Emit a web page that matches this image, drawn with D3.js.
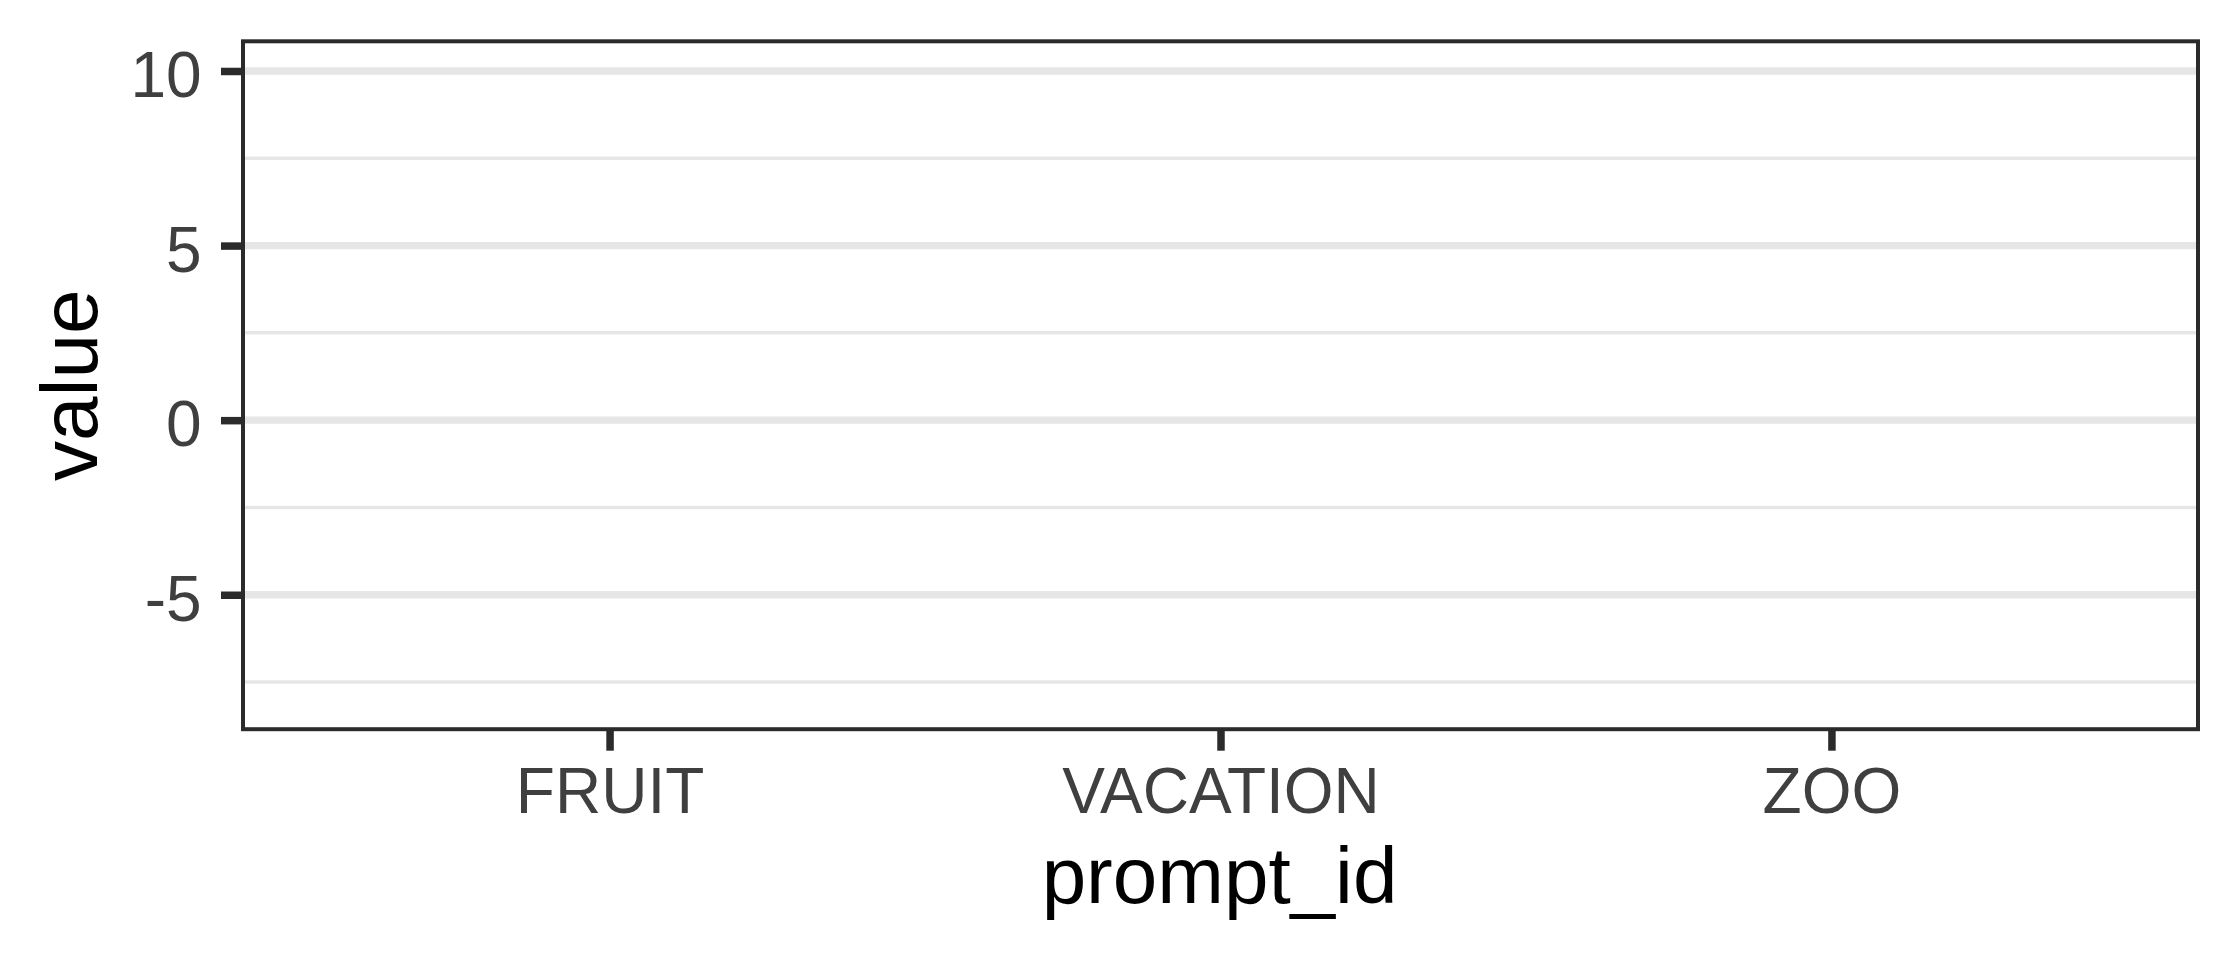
<!DOCTYPE html>
<html>
<head>
<meta charset="utf-8">
<script src="https://cdn.jsdelivr.net/npm/d3@7"></script>
<style>
  html, body { margin: 0; padding: 0; background: #ffffff; }
  svg { display: block; }
  text { font-family: "Liberation Sans", Arial, Helvetica, sans-serif; }
</style>
</head>
<body>
<svg id="chart" width="2240" height="960"></svg>
<script>
// ---- data ----
const categories = ["FRUIT", "VACATION", "ZOO"];
const seriesValues = [];            // the panel holds no marks
const yMajorTicks = [-5, 0, 5, 10];
const yMinorTicks = [-7.5, -2.5, 2.5, 7.5];
const yTickLabels = ["-5", "0", "5", "10"];
const yDomain = [-8.85, 10.85];
const xTitle = "prompt_id";
const yTitle = "value";

// ---- layout ----
const W = 2240, H = 960;
const panel = { left: 243, right: 2198, top: 41.3, bottom: 729.2 };

const svg = d3.select("#chart");

const x = d3.scalePoint().domain(categories)
  .range([panel.left, panel.right]).padding(0.6);
const y = d3.scaleLinear().domain(yDomain)
  .range([panel.bottom, panel.top]);

// panel background
svg.append("rect")
  .attr("x", panel.left).attr("y", panel.top)
  .attr("width", panel.right - panel.left)
  .attr("height", panel.bottom - panel.top)
  .attr("fill", "#ffffff");

// minor grid
svg.append("g").selectAll("line").data(yMinorTicks).join("line")
  .attr("x1", panel.left).attr("x2", panel.right)
  .attr("y1", d => y(d)).attr("y2", d => y(d))
  .attr("stroke", "#e6e6e6").attr("stroke-width", 3.5);

// major grid
svg.append("g").selectAll("line").data(yMajorTicks).join("line")
  .attr("x1", panel.left).attr("x2", panel.right)
  .attr("y1", d => y(d)).attr("y2", d => y(d))
  .attr("stroke", "#e6e6e6").attr("stroke-width", 7.3);

// marks (none)
svg.append("g").selectAll("circle").data(seriesValues).join("circle")
  .attr("cx", d => x(d.category)).attr("cy", d => y(d.value)).attr("r", 6);

// y axis
const yAxis = svg.append("g")
  .attr("transform", `translate(${panel.left},0)`)
  .call(d3.axisLeft(y).tickValues(yMajorTicks)
    .tickFormat((d, i) => yTickLabels[i])
    .tickSize(22).tickPadding(19.3));
yAxis.select(".domain").remove();
yAxis.selectAll(".tick line").attr("stroke", "#2b2b2b").attr("stroke-width", 7.5);
yAxis.selectAll(".tick text")
  .attr("dy", "0.4em")
  .attr("fill", "#3f3f3f")
  .style("font-size", "64px");

// x axis
const xAxis = svg.append("g")
  .attr("transform", `translate(0,${panel.bottom})`)
  .call(d3.axisBottom(x).tickSize(21.5));
xAxis.select(".domain").remove();
xAxis.selectAll(".tick line").attr("stroke", "#2b2b2b").attr("stroke-width", 7.5);
xAxis.selectAll(".tick text")
  .attr("dy", null)
  .attr("y", 813 - panel.bottom)
  .attr("fill", "#3f3f3f")
  .style("font-size", "64px");

// panel border
svg.append("rect")
  .attr("x", panel.left).attr("y", panel.top)
  .attr("width", panel.right - panel.left)
  .attr("height", panel.bottom - panel.top)
  .attr("fill", "none")
  .attr("stroke", "#2b2b2b").attr("stroke-width", 4);

// axis titles
svg.append("text")
  .attr("x", (panel.left + panel.right) / 2 - 1)
  .attr("y", 903)
  .attr("text-anchor", "middle")
  .attr("fill", "#000000")
  .style("font-size", "80px")
  .text(xTitle);

svg.append("text")
  .attr("transform", `translate(96.7,${(panel.top + panel.bottom) / 2}) rotate(-90)`)
  .attr("text-anchor", "middle")
  .attr("fill", "#000000")
  .style("font-size", "80px")
  .text(yTitle);
</script>
</body>
</html>
